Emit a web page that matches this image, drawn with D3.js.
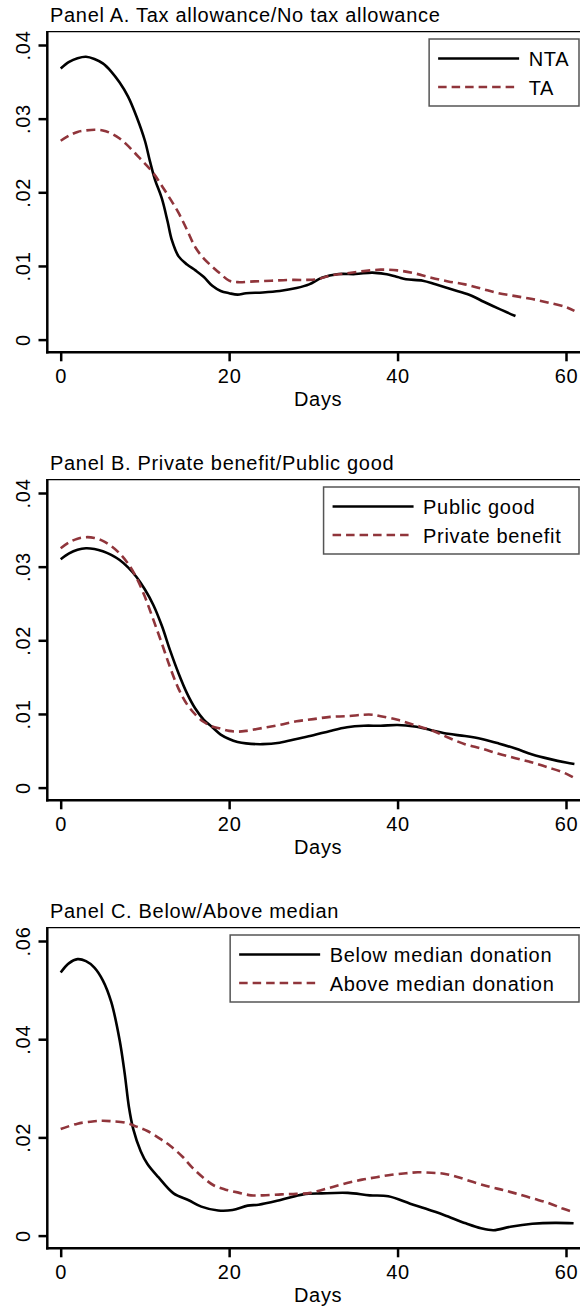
<!DOCTYPE html>
<html>
<head>
<meta charset="utf-8">
<script src="https://cdn.jsdelivr.net/npm/d3@7"></script>
<style>
  html, body { margin: 0; padding: 0; background: #fff; }
  svg { display: block; font-family: "Liberation Sans", Arial, Helvetica, sans-serif; }
  text { letter-spacing: 0.7px; fill: #000; }
</style>
</head>
<body>
<svg id="chart"></svg>
<script>
// ---- Kernel density of donation timing (days since start) ----

// Panel A: no tax allowance (NTA) vs tax allowance (TA)
const ntaDays = [0, 1, 2, 3, 4, 5, 6, 7, 8, 9, 10, 10.6, 11.2, 12, 12.7, 13.2, 14, 15, 16, 17, 18, 19, 20, 21, 22, 24, 26, 28, 29.5, 31, 33, 35, 37, 38.5, 40, 41, 43, 44.5, 46.5, 48.5, 50.3, 52, 54];
const ntaDensity = [.0368, .0377, .0382, .0384, .0381, .0375, .0364, .0349, .0330, .0303, .0270, .0242, .0217, .0192, .0160, .0135, .0113, .0102, .0094, .0085, .0073, .0066, .0063, .0061, .0063, .0064, .0066, .0070, .0075, .0084, .0089, .0089, .0091, .0089, .0085, .0082, .0080, .0075, .0068, .0061, .0051, .0042, .0032];
const taDays = [0, 1, 2, 3, 4, 5, 6, 7, 8, 9, 10, 11, 12, 13, 14, 15, 16, 17, 18, 19, 20, 21, 23, 25, 27, 29, 30.5, 32, 34, 36, 38, 40, 42, 44, 46, 48, 50, 52, 54, 56, 58, 60, 61];
const taDensity = [.0270, .0277, .0282, .0284, .0285, .0284, .0280, .0273, .0263, .0251, .0239, .0226, .0209, .0191, .0172, .0149, .0125, .0110, .0099, .0089, .0080, .0078, .0079, .0080, .0081, .0081, .0082, .0087, .0090, .0093, .0095, .0094, .0090, .0084, .0079, .0075, .0069, .0063, .0059, .0055, .0050, .0044, .0039];

// Panel B: public good vs private benefit
const publicDays = [0, 1, 2, 3, 4, 5, 6, 7, 8, 9, 10, 11, 12, 13, 14, 15, 16, 17, 18, 19, 20, 21, 22, 24, 26, 28, 30, 32, 34, 36, 38, 40, 42, 44, 46, 48, 50, 52, 54, 56, 58, 60, 61];
const publicDensity = [.0310, .0318, .0323, .0325, .0324, .0321, .0316, .0309, .0299, .0286, .0269, .0248, .0220, .0186, .0155, .0128, .0107, .0092, .0082, .0072, .0066, .0062, .0060, .0059, .0061, .0066, .0071, .0077, .0082, .0084, .0084, .0085, .0083, .0078, .0073, .0070, .0066, .0060, .0053, .0045, .0039, .0034, .0032];
const privateDays = [0, 1, 2, 3, 4, 5, 6, 7, 8, 9, 10, 11, 12, 13, 14, 15, 16, 17, 18, 19, 20, 21, 22, 24, 26, 28, 30, 32, 34, 36, 37, 38, 40, 42, 44, 46, 48, 50, 52, 54, 56, 58, 60, 61];
const privateDensity = [.0325, .0333, .0338, .0340, .0339, .0335, .0328, .0318, .0304, .0285, .0259, .0228, .0196, .0163, .0134, .0113, .0099, .0089, .0083, .0080, .0077, .0076, .0077, .0081, .0085, .0090, .0093, .0096, .0097, .0099, .0099, .0097, .0092, .0085, .0078, .0068, .0059, .0053, .0046, .0040, .0034, .0027, .0019, .0013];

// Panel C: below vs above median donation
const belowDays = [0, 1, 2, 3, 4, 5, 6, 7, 7.6, 8.1, 8.6, 9.5, 10.3, 11.6, 13.4, 15.2, 16.7, 18.7, 20.4, 22.2, 23.5, 26.2, 28.8, 31, 34.1, 36.7, 38.9, 41.5, 43.3, 45.5, 48.1, 49.9, 51.4, 53.4, 56, 58.7, 60.9];
const belowDensity = [.0536, .0555, .0563, .0559, .0546, .0520, .0476, .0398, .0330, .0262, .0218, .0172, .0146, .0119, .0086, .0072, .0059, .0051, .0052, .0061, .0063, .0073, .0084, .0086, .0087, .0082, .0080, .0065, .0055, .0042, .0025, .0015, .0011, .0018, .0024, .0026, .0025];
const aboveDays = [0, 2, 4, 5, 6, 7.7, 9, 10.3, 12, 13, 14.5, 15.6, 17, 18.2, 19.5, 21, 22.6, 24, 26.2, 28, 29.7, 31, 32.3, 34, 35.8, 37.5, 39.3, 41, 42.4, 44, 45.5, 47, 49, 51, 52.5, 54, 56, 58, 59.6, 60.9];
const aboveDensity = [.0217, .0228, .0233, .0234, .0233, .0230, .0222, .0213, .0195, .0183, .0160, .0139, .0117, .0102, .0094, .0088, .0082, .0082, .0084, .0085, .0087, .0093, .0099, .0107, .0114, .0119, .0124, .0127, .0129, .0128, .0126, .0120, .0109, .0099, .0093, .0086, .0076, .0066, .0055, .0048];

// Axis ticks and labels
const xTicks = [0, 20, 40, 60];
const yTicksAB = [0, .01, .02, .03, .04];
const yTicksC = [0, .02, .04, .06];
const panelTitles = [
  "Panel A. Tax allowance/No tax allowance",
  "Panel B. Private benefit/Public good",
  "Panel C. Below/Above median"
];
const legendLabels = [
  ["NTA", "TA"],
  ["Public good", "Private benefit"],
  ["Below median donation", "Above median donation"]
];
const xTitle = "Days";

// ---- Layout ----
const W = 580, H = 1310;
const panelStep = 448;
const plot = { left: 47.3, right: 589, top: 31.7, bottom: 352.3 };
const yZeroPx = 339.6, yTopTickPx = 45;
const solidColor = "#000000";
const dashColor = "rgb(144,53,59)";
const lineW = 2.6;
const dash = "9,5";

const panels = [
  { title: panelTitles[0], labels: legendLabels[0], yTicks: yTicksAB,
    series: [[ntaDays, ntaDensity], [taDays, taDensity]] },
  { title: panelTitles[1], labels: legendLabels[1], yTicks: yTicksAB,
    series: [[publicDays, publicDensity], [privateDays, privateDensity]] },
  { title: panelTitles[2], labels: legendLabels[2], yTicks: yTicksC,
    series: [[belowDays, belowDensity], [aboveDays, aboveDensity]] }
];

const svg = d3.select("#chart").attr("width", W).attr("height", H);
svg.append("rect").attr("width", W).attr("height", H).attr("fill", "#fff");

const x = d3.scaleLinear().domain([0, 60]).range([60.7, 566]);
const yFmt = d => d === 0 ? "0" : d3.format(".2f")(d).replace(/^0/, "");

panels.forEach((p, i) => {
  const g = svg.append("g").attr("transform", `translate(0,${i * panelStep})`);
  const yMax = p.yTicks[p.yTicks.length - 1];
  const y = d3.scaleLinear().domain([0, yMax]).range([yZeroPx, yTopTickPx]);

  // Panel title
  g.append("text")
    .attr("x", 50).attr("y", 21.7)
    .attr("font-size", 20)
    .text(p.title);

  // Plot region outline (thin) on top and right
  g.append("line")
    .attr("x1", plot.left).attr("x2", plot.right)
    .attr("y1", plot.top).attr("y2", plot.top)
    .attr("stroke", "#000").attr("stroke-width", 1.3);
  g.append("line")
    .attr("x1", plot.right).attr("x2", plot.right)
    .attr("y1", plot.top).attr("y2", plot.bottom)
    .attr("stroke", "#000").attr("stroke-width", 1.3);

  // Y axis
  const yAxis = g.append("g")
    .attr("transform", `translate(${plot.left},0)`)
    .call(d3.axisLeft(y).tickValues(p.yTicks).tickFormat(yFmt).tickSize(8.8));
  yAxis.select(".domain").remove();
  yAxis.selectAll(".tick line").attr("stroke", "#000").attr("stroke-width", 2.5);
  yAxis.selectAll(".tick text")
    .attr("font-size", 20)
    .attr("text-anchor", "middle")
    .attr("transform", "rotate(-90)")
    .attr("x", 0).attr("y", -17.8).attr("dy", 0)
    .attr("fill", "#000");
  yAxis.attr("font-family", null).attr("font-size", null);

  // X axis
  const xAxis = g.append("g")
    .attr("transform", `translate(0,${plot.bottom})`)
    .call(d3.axisBottom(x).tickValues(xTicks).tickFormat(d3.format("d")).tickSize(9));
  xAxis.select(".domain").remove();
  xAxis.selectAll(".tick line").attr("stroke", "#000").attr("stroke-width", 2.5);
  xAxis.selectAll(".tick text")
    .attr("font-size", 20)
    .attr("y", 30.4).attr("dy", 0)
    .attr("fill", "#000");
  xAxis.attr("font-family", null).attr("font-size", null);

  // Axis lines
  g.append("line")
    .attr("x1", plot.left).attr("x2", plot.left)
    .attr("y1", plot.top - 0.6).attr("y2", plot.bottom + 1.25)
    .attr("stroke", "#000").attr("stroke-width", 2.5);
  g.append("line")
    .attr("x1", plot.left - 1.25).attr("x2", plot.right)
    .attr("y1", plot.bottom).attr("y2", plot.bottom)
    .attr("stroke", "#000").attr("stroke-width", 2.5);

  // X axis title
  g.append("text")
    .attr("x", (plot.left + plot.right) / 2).attr("y", 406)
    .attr("text-anchor", "middle")
    .attr("font-size", 20)
    .text(xTitle);

  // Density lines
  const line = d3.line()
    .x(d => x(d[0])).y(d => y(d[1]))
    .curve(d3.curveCatmullRom.alpha(0.5));
  p.series.forEach((s, k) => {
    const pts = s[0].map((d, j) => [d, s[1][j]]);
    g.append("path")
      .datum(pts)
      .attr("d", line)
      .attr("fill", "none")
      .attr("stroke", k === 0 ? solidColor : dashColor)
      .attr("stroke-width", lineW)
      .attr("stroke-dasharray", k === 0 ? null : dash)
      .attr("stroke-linejoin", "round");
  });

  // Legend
  const leg = g.append("g");
  const box = leg.append("rect")
    .attr("fill", "#fff").attr("stroke", "#555").attr("stroke-width", 1.5);
  const rowsY = [58.5, 87];
  const texts = p.labels.map((lab, k) =>
    leg.append("text").attr("font-size", 20).attr("y", rowsY[k] + 7.6).text(lab));
  const maxW = d3.max(texts, t => t.node().getComputedTextLength());
  const boxRight = 579;
  const boxW = 106 + 1.08 * maxW;
  const boxLeft = boxRight - boxW;
  box.attr("x", boxLeft).attr("y", 39).attr("width", boxW).attr("height", 67);
  texts.forEach(t => t.attr("x", boxLeft + 99.5));
  p.labels.forEach((lab, k) => {
    leg.append("line")
      .attr("x1", boxLeft + 9).attr("x2", boxLeft + 90)
      .attr("y1", rowsY[k]).attr("y2", rowsY[k])
      .attr("stroke", k === 0 ? solidColor : dashColor)
      .attr("stroke-width", lineW)
      .attr("stroke-dasharray", k === 0 ? null : "8.5,5");
  });
});
</script>
</body>
</html>
